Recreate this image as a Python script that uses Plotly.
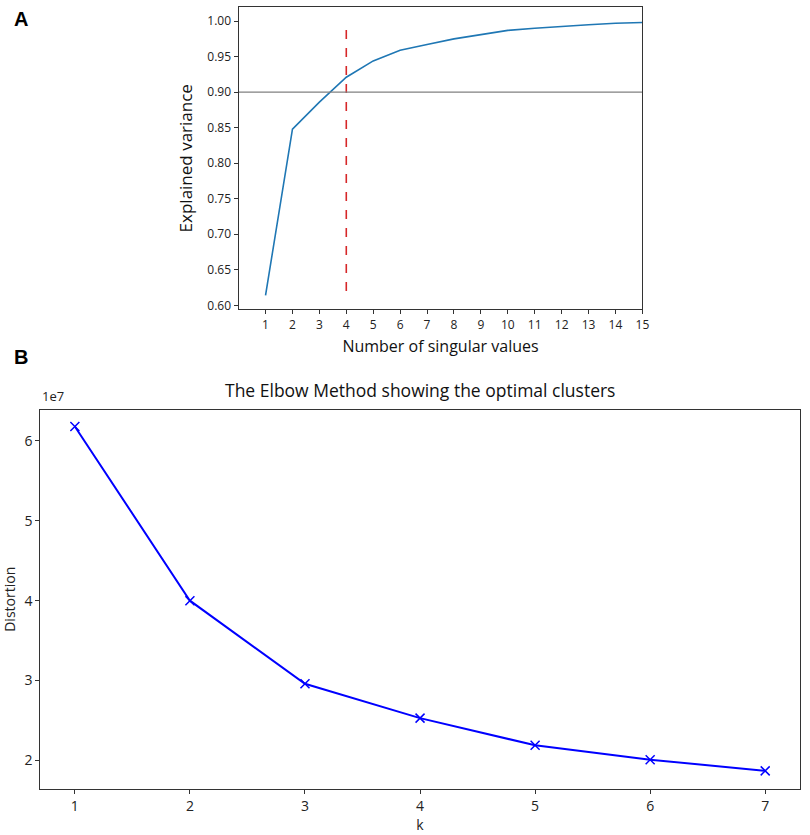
import plotly.graph_objects as go

# panel A: cumulative explained variance
n_sv = list(range(1, 16))
explained = [0.614, 0.848, 0.886, 0.921, 0.944, 0.959, 0.967, 0.975,
             0.981, 0.987, 0.990, 0.993, 0.995, 0.997, 0.998]
cutoff_k = 4
threshold = 0.90

# panel B: elbow method
k_vals = [1, 2, 3, 4, 5, 6, 7]
distortion = [6.18e7, 4.00e7, 2.96e7, 2.53e7, 2.19e7, 2.01e7, 1.87e7]
b_ticks = [2e7, 3e7, 4e7, 5e7, 6e7]
b_ticktext = ['2', '3', '4', '5', '6']

W, H = 810, 835
fontA = 'Open Sans'
fontB = 'Open Sans'

fig = go.Figure()

fig.add_trace(go.Scatter(x=n_sv, y=explained, mode='lines',
                         line=dict(color='#1f77b4', width=1.6),
                         xaxis='x', yaxis='y', showlegend=False))
fig.add_trace(go.Scatter(x=[cutoff_k, cutoff_k], y=[0.62, 1.0], mode='lines',
                         line=dict(color='#d62728', width=1.6, dash='dash'),
                         xaxis='x', yaxis='y', showlegend=False))
fig.add_trace(go.Scatter(x=[0, 15], y=[threshold, threshold], mode='lines',
                         line=dict(color='#808080', width=1.2),
                         xaxis='x', yaxis='y', showlegend=False))

fig.add_trace(go.Scatter(x=k_vals, y=distortion, mode='lines+markers',
                         line=dict(color='#0000ff', width=2),
                         marker=dict(symbol='x-thin', size=9,
                                     line=dict(color='#0000ff', width=1.5)),
                         xaxis='x2', yaxis='y2', showlegend=False))

ax_common = dict(showline=True, linecolor='#333333', linewidth=1.2, mirror=True,
                 ticks='outside', ticklen=4, tickcolor='#333333',
                 showgrid=False, zeroline=False)

fig.update_layout(
    width=W, height=H,
    margin=dict(l=0, r=0, t=0, b=0),
    plot_bgcolor='white', paper_bgcolor='white',
    xaxis=dict(domain=[240.7 / W, 648 / W], anchor='y', range=[0, 15],
               tickvals=n_sv, tickfont=dict(family=fontA, size=12, color='#222'),
               title=dict(text='Number of singular values',
                          font=dict(family=fontA, size=16, color='#111'), standoff=9),
               **ax_common),
    yaxis=dict(domain=[1 - 310.7 / H, 1 - 7.3 / H], anchor='x', range=[0.5945, 1.0195],
               tickvals=[0.60, 0.65, 0.70, 0.75, 0.80, 0.85, 0.90, 0.95, 1.00],
               tickformat='.2f', tickfont=dict(family=fontA, size=12, color='#222'),
               title=dict(text='Explained variance',
                          font=dict(family=fontA, size=17, color='#111'), standoff=10),
               **ax_common),
    xaxis2=dict(domain=[40.7 / W, 806.7 / W], anchor='y2', range=[0.7, 7.3],
                tickvals=k_vals, tickfont=dict(family=fontB, size=14, color='#222'),
                title=dict(text='k', font=dict(family=fontB, size=14, color='#222'),
                           standoff=5),
                **ax_common),
    yaxis2=dict(domain=[1 - 792.7 / H, 1 - 411.7 / H], anchor='x2',
                range=[1.644e7, 6.39e7], tickvals=b_ticks, ticktext=b_ticktext,
                tickfont=dict(family=fontB, size=14, color='#222'),
                title=dict(text='Distortion', font=dict(family=fontB, size=14, color='#222'),
                           standoff=6),
                **ax_common),
    annotations=[
        dict(text='<b>A</b>', x=12 / W, y=1 - 6 / H, xref='paper', yref='paper',
             xanchor='left', yanchor='top', showarrow=False,
             font=dict(family='Liberation Sans', size=20, color='black')),
        dict(text='<b>B</b>', x=12 / W, y=1 - 346 / H, xref='paper', yref='paper',
             xanchor='left', yanchor='top', showarrow=False,
             font=dict(family='Liberation Sans', size=20, color='black')),
        dict(text='1e7', x=40.7 / W, y=1 - 409 / H, xref='paper', yref='paper',
             xanchor='left', yanchor='bottom', showarrow=False,
             font=dict(family=fontB, size=13, color='#222')),
        dict(text='The Elbow Method showing the optimal clusters',
             x=(40.7 + 806.7) / 2 / W, y=1 - 406 / H, xref='paper', yref='paper',
             xanchor='center', yanchor='bottom', showarrow=False,
             font=dict(family=fontB, size=17.5, color='#111')),
    ],
)

fig.write_html("out.html", config={'displayModeBar': False},
               post_script="document.body.style.margin='0';")
